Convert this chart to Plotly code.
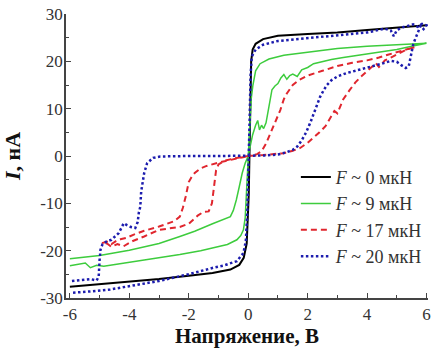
import plotly.graph_objects as go

# ---------------- data ----------------
black_v = [-6, -5, -4, -3, -2, -1.2, -0.6, -0.3, -0.15, -0.05, 0.02, 0.05, 0.08, 0.1, 0.15, 0.25, 0.5, 1.0, 2.0, 3.0, 4.0, 5.0, 6.0]
black_i = [-27.6, -27.1, -26.6, -26.0, -25.3, -24.7, -24.0, -23.0, -21.5, -18.5, -8, 0, 12, 20, 22.5, 23.7, 24.7, 25.4, 25.8, 26.1, 26.6, 27.1, 27.6]

green_fwd_v = [-6, -5, -4, -3, -2.3, -1.8, -1.2, -0.8, -0.6, -0.5, -0.4, -0.3, -0.2, -0.1, 0, 0.05, 0.15, 0.25, 0.32, 0.38, 0.45, 0.52, 0.6, 0.7, 0.8, 0.9, 1.0, 1.1, 1.2, 1.3, 1.4, 1.5, 1.65, 1.8, 2.0, 2.2, 2.5, 2.8, 3.2, 3.6, 4.0, 4.5, 5.0, 5.5, 6.0]
green_fwd_i = [-21.7, -21.0, -19.9, -18.5, -17.0, -15.9, -14.3, -13.4, -12.8, -11.5, -9.3, -6.5, -3.6, -1.5, 0, 1.5, 4.5, 6.5, 7.5, 5.5, 6.5, 5.8, 7.0, 10.5, 14.0, 14.8, 15.3, 16.5, 17.2, 16.2, 17.0, 17.3, 16.8, 18.2, 18.7, 19.5, 20.0, 20.4, 20.8, 21.2, 21.6, 22.0, 22.5, 23.2, 23.7]
green_bwd_v = [6, 5, 4, 3, 2, 1.2, 0.7, 0.4, 0.25, 0.16, 0.1, 0.05, 0, -0.04, -0.1, -0.16, -0.25, -0.38, -0.7, -1.17, -1.6, -2.3, -3, -3.5, -4.2, -4.86, -5.1, -5.31, -5.48, -5.7, -6]
green_bwd_i = [23.8, 23.5, 23.2, 22.7, 22.0, 21.3, 20.5, 19.5, 18.0, 15.0, 12.0, 6, 0, -7.2, -13, -15.6, -16.8, -17.7, -18.7, -19.4, -20.0, -20.8, -21.5, -22.0, -22.6, -23.3, -23.1, -23.6, -22.6, -22.9, -23.2]

red_a_v = [-4.92, -4.75, -4.6, -4.45, -4.3, -4.1, -3.85, -3.5, -3.0, -2.5, -2.3, -2.2, -2.1, -2.0, -1.9, -1.8, -1.6, -1.4, -1.0, -0.6, -0.3, 0]
red_a_i = [-18.4, -18.1, -18.6, -18.0, -17.6, -17.3, -16.6, -15.8, -14.9, -13.8, -12.8, -11.0, -8.5, -5.5, -4.4, -3.6, -2.6, -2.1, -1.4, -0.8, -0.4, 0]
red_b_v = [0, 0.5, 1.0, 1.2, 1.5, 1.75, 2.0, 2.2, 2.4, 2.6, 2.75, 2.9, 3.0, 3.1, 3.2, 3.4, 3.6, 3.8, 4.0, 4.2, 4.3, 4.4, 4.6, 4.8, 5.0, 5.3, 5.6]
red_b_i = [0, 0.2, 0.4, 0.6, 1.1, 1.7, 2.8, 3.8, 5.0, 6.3, 8.0, 9.5, 9.0, 10.5, 12.0, 13.8, 15.5, 16.8, 18.0, 19.2, 19.6, 18.8, 20.2, 20.8, 21.4, 22.4, 23.0]
red_c_v = [5.6, 5.3, 5.0, 4.7, 4.4, 4.0, 3.5, 3.0, 2.5, 2.0, 1.7, 1.5, 1.3, 1.2, 1.08, 0.9, 0.75, 0.6, 0.45, 0.3, 0]
red_c_i = [23.0, 22.5, 22.0, 21.4, 20.8, 20.2, 19.7, 19.0, 18.0, 17.0, 16.0, 15.0, 13.2, 12.0, 9.7, 7.0, 4.8, 2.6, 1.0, 0.4, 0]
red_d_v = [0, -0.4, -0.8, -1.0, -1.08, -1.15, -1.22, -1.33, -1.5, -1.7, -2.0, -2.3, -2.6, -3.0, -3.5, -3.9, -4.2, -4.4, -4.6, -4.75, -4.92]
red_d_i = [0, -0.4, -1.0, -1.8, -3.0, -6.5, -10.0, -11.7, -11.8, -12.6, -14.3, -15.0, -15.3, -15.6, -17.0, -18.0, -19.1, -18.6, -19.2, -18.5, -18.4]

blue_a_v = [-5.93, -5.7, -5.5, -5.3, -5.1, -5.03, -5.0, -4.97, -4.9, -4.75, -4.6, -4.5, -4.36, -4.25, -4.19, -4.08, -3.95, -3.8, -3.72, -3.68, -3.63, -3.6, -3.55, -3.5, -3.4, -3.2, -2.96, -2.5, -2.0, -1.0, 0, 0.5, 1.0, 1.3, 1.5, 1.65, 1.8, 1.95, 2.1, 2.2, 2.3, 2.42, 2.55, 2.65, 2.8, 3.0, 3.3, 3.6, 4.0, 4.2, 4.5, 4.8, 5.0, 5.15, 5.3, 5.4, 5.45, 5.5, 5.55, 5.6, 5.7, 5.8, 5.9, 6.0]
blue_a_i = [-26.4, -26.2, -26.1, -26.0, -26.3, -25.5, -22, -19.8, -18.6, -18.0, -17.7, -17.2, -16.3, -15.0, -14.2, -14.6, -15.0, -15.2, -14.0, -12.0, -10.7, -7.5, -5.0, -3.6, -1.5, -0.4, -0.1, 0, 0, 0, 0, 0.1, 0.3, 0.8, 1.3, 2.0, 3.3, 5.0, 7.2, 9.0, 10.8, 12.5, 14.0, 15.0, 16.0, 16.8, 17.5, 18.0, 18.6, 18.9, 19.5, 20.1, 19.9, 19.2, 18.6, 18.9, 20.5, 22.0, 23.5, 24.4, 26.0, 27.5, 26.8, 27.5]
blue_b_v = [6.0, 5.85, 5.7, 5.55, 5.4, 5.2, 5.0, 4.9, 4.8, 4.6, 4.0, 3.0, 2.0, 1.0, 0.5, 0.25, 0.12, 0.08, 0.05, 0.02, 0, -0.03, -0.08, -0.16, -0.38, -0.8, -1.17, -1.95, -3.0, -4.0, -4.64, -5.3, -5.93]
blue_b_i = [27.6, 27.9, 27.3, 27.8, 27.5, 27.2, 26.6, 25.3, 26.5, 26.9, 26.1, 25.5, 24.9, 24.3, 23.5, 22.5, 21, 17, 8, 0, -5, -12, -18, -20.5, -22.2, -23.1, -23.6, -24.9, -26.4, -27.5, -28.2, -28.6, -28.9]

labels = ["<i>F</i> ~ 0 мкН", "<i>F</i> ~ 9 мкН", "<i>F</i> ~ 17 мкН", "<i>F</i> ~ 20 мкН"]
x_ticks = [-6, -4, -2, 0, 2, 4, 6]
y_ticks = [-30, -20, -10, 0, 10, 20, 30]

# ---------------- figure ----------------
SERIF = "Liberation Serif"
fig = go.Figure()
fig.add_trace(go.Scatter(x=black_v, y=black_i, mode="lines", name=labels[0],
                         line=dict(color="#000000", width=2)))
fig.add_trace(go.Scatter(x=green_fwd_v + green_bwd_v, y=green_fwd_i + green_bwd_i, mode="lines", name=labels[1],
                         line=dict(color="#3dcc3d", width=1.5)))
fig.add_trace(go.Scatter(x=red_a_v + red_b_v + red_c_v + red_d_v, y=red_a_i + red_b_i + red_c_i + red_d_i,
                         mode="lines", name=labels[2],
                         line=dict(color="#e0262e", width=2, dash="6px,4px")))
fig.add_trace(go.Scatter(x=blue_a_v + blue_b_v, y=blue_a_i + blue_b_i, mode="lines", name=labels[3],
                         line=dict(color="#1c1cae", width=2.5, dash="2.5px,2.5px")))

axis_common = dict(showgrid=False, zeroline=False, showline=True, linecolor="#444", linewidth=1.5,
                   ticks="inside", ticklen=5, tickwidth=1.2, tickcolor="#444", automargin=False,
                   tickfont=dict(family=SERIF, size=17, color="#333"),
                   minor=dict(ticks="inside", ticklen=3, tickwidth=1, tickcolor="#444"))
fig.update_xaxes(range=[-6.13, 6.05], tickvals=x_ticks, ticktext=[str(v) for v in x_ticks],
                 minor_dtick=1, ticklabelstandoff=0,
                 title=dict(text="<b>Напряжение, В</b>", font=dict(family=SERIF, size=21, color="#111"), standoff=2),
                 **axis_common)
fig.update_yaxes(range=[-30, 30], tickvals=y_ticks, ticktext=[str(v) for v in y_ticks],
                 minor_dtick=5, ticklabelstandoff=-2,
                 title=dict(text="\u00a0\u00a0<b><i>I</i>, нА</b>", font=dict(family=SERIF, size=22, color="#111"), standoff=16),
                 **axis_common)
fig.update_layout(
    width=432, height=351,
    margin=dict(l=66, r=4, t=14, b=53),
    plot_bgcolor="white", paper_bgcolor="white",
    legend=dict(x=0.635, y=0.49, xanchor="left", yanchor="top",
                font=dict(family=SERIF, size=18, color="#333"),
                bgcolor="rgba(0,0,0,0)", tracegroupgap=0, itemwidth=30),
)
fig.write_html("out.html", config={"displayModeBar": False},
               post_script="document.body.style.margin='0';document.body.style.overflow='hidden';")
